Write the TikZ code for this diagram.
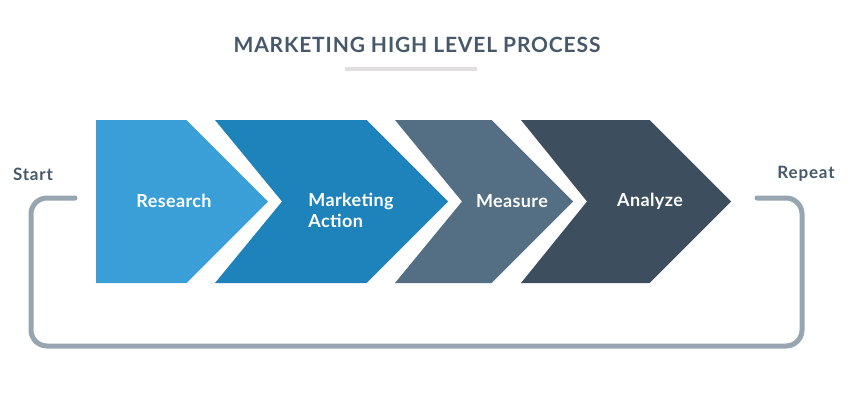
\documentclass[tikz,border=0pt]{standalone}
\usepackage{fontspec}
\setmainfont{Lato}
\newfontfamily\titlefont[LetterSpace=4]{Lato}
\newfontfamily\labfont[LetterSpace=2]{Lato}
\newfontfamily\sidefont[LetterSpace=5]{Lato}
\definecolor{cA}{HTML}{3A9FD7}
\definecolor{cB}{HTML}{1E82BB}
\definecolor{cC}{HTML}{546F83}
\definecolor{cD}{HTML}{3D4E5E}
\definecolor{loopc}{HTML}{97A4B1}
\definecolor{txt}{HTML}{46586A}
\definecolor{barc}{HTML}{E1DEDF}
\tikzset{
  chev/.style={fill=#1, draw=none},
  lab/.style={text=white, font=\labfont\bfseries\fontsize{18}{21}\selectfont, inner sep=0pt},
  side/.style={text=txt, font=\sidefont\bfseries\fontsize{17}{18}\selectfont, inner sep=0pt},
  loopline/.style={draw=loopc, line width=5pt, line cap=round, rounded corners=16pt},
}
\begin{document}
\begin{tikzpicture}[x=1pt,y=-1pt]
\useasboundingbox (0,0) rectangle (850,400);
% title
\node[text=txt, font=\titlefont\bfseries\fontsize{21}{24}\selectfont, inner sep=0pt] (title) at (417,45) {MARKETING HIGH LEVEL PROCESS};
\fill[barc] (345,66.5) rectangle (477,70.5);
% chevrons
\path[chev=cA] (96,120) -- (186.5,120) -- (268,201.5) -- (186.5,283) -- (96,283) -- cycle;
\path[chev=cB] (215,120) -- (366.5,120) -- (448,201.5) -- (366.5,283) -- (215,283) -- (282,201.5) -- cycle;
\path[chev=cC] (395,120) -- (491.5,120) -- (573,201.5) -- (491.5,283) -- (395,283) -- (462,201.5) -- cycle;
\path[chev=cD] (521,120) -- (649.5,120) -- (731,201.5) -- (649.5,283) -- (521,283) -- (587,201.5) -- cycle;
% labels
\node[lab] (research) at (174,201) {Research};
\node[lab, align=left] (action) at (351,210) {Marketing\\Action};
\node[lab] (measure) at (512,201) {Measure};
\node[lab] (analyze) at (650,201) {Analyze};
% start / repeat
\node[side] (start) at (33,174) {Start};
\node[side] (repeat) at (806,174) {Repeat};
\coordinate (s0) at (75,198);
\coordinate (s1) at (31,198);
\coordinate (b1) at (31,346);
\coordinate (b2) at (802,346);
\coordinate (r1) at (802,198);
\coordinate (r0) at (757,198);
\draw[loopline] (s0) -- (s1) -- (b1) -- (b2) -- (r1) -- (r0);
\end{tikzpicture}
\end{document}
